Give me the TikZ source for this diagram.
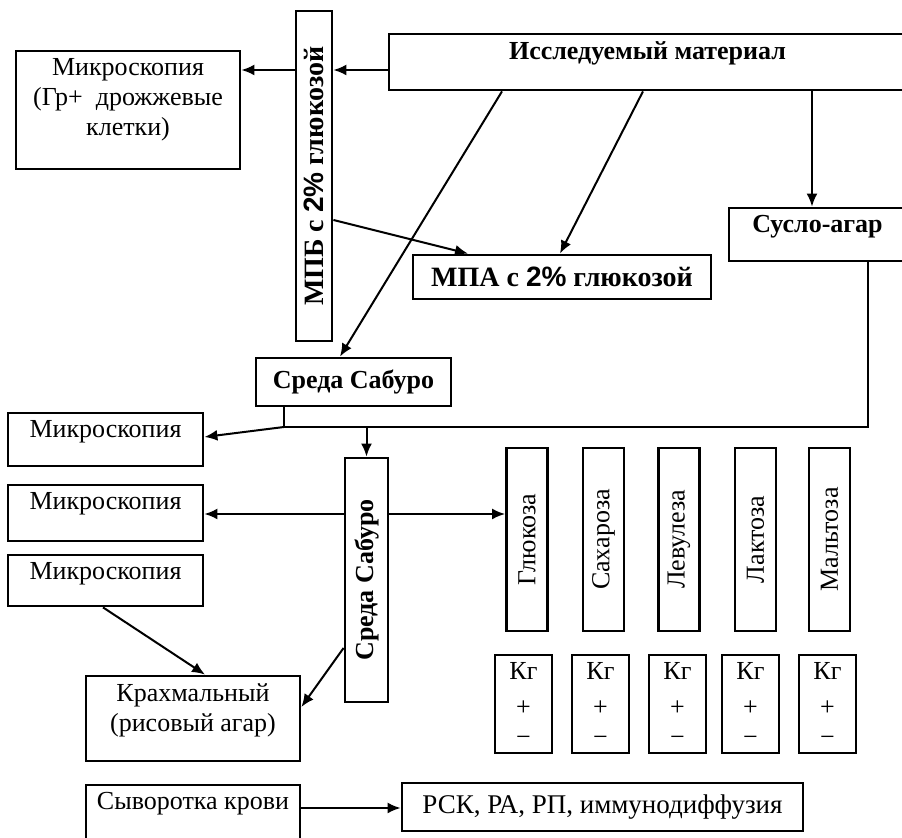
\documentclass[tikz,border=0pt]{standalone}
\usepackage{fontspec}
\setmainfont{Liberation Serif}
\setsansfont{Liberation Sans}
\usetikzlibrary{arrows.meta}

\tikzset{
	box/.style={draw, line width=1.4pt, inner sep=0pt},
	txt/.style={anchor=north, align=center, inner sep=4pt, font=\fontsize{13}{15}\selectfont},
	btxt/.style={txt, font=\fontsize{13}{15}\selectfont\bfseries},
	plain/.style={inner sep=0pt, align=center, font=\fontsize{13}{15}\selectfont},
	bplain/.style={plain, font=\fontsize{13}{15}\selectfont\bfseries},
	bbig/.style={plain, font=\fontsize{14}{16}\selectfont\bfseries},
}

\begin{document}
\begin{tikzpicture}[x=0.5pt, y=-0.5pt, line width=1pt, >={Latex[length=6.5pt,width=5.5pt]}]
	\useasboundingbox (0,0) rectangle (902,838);

	%MATERIALE
	\node[box, minimum width=258.5pt, minimum height=28pt, label={[btxt]north:Исследуемый материал}] (issl) at (647.5,62) {};
	\node[box, minimum width=18pt, minimum height=165pt] (mpb) at (314,176) {};
	\node[bbig, rotate=90] (mpb-t) at (mpb) {МПБ с {\sffamily 2\%} глюкозой};
	\node[box, minimum width=112pt, minimum height=59pt, label={[txt]north:{Микроскопия\\(Гр+\ \ дрожжевые\\клетки)}}] (micro1) at (128,110) {};
	\node[box, minimum width=149pt, minimum height=22pt, bbig] (mpa) at (562,277) {МПА с {\sffamily 2\%} глюкозой};
	\node[box, minimum width=88.5pt, minimum height=26.5pt, label={[btxt]north:Сусло-агар}] (suslo) at (817.5,234.5) {};
	\node[box, minimum width=97.5pt, minimum height=24pt, bplain] (sab1) at (353.5,382) {Среда Сабуро};

	%SABURO
	\node[box, minimum width=21.5pt, minimum height=122pt] (sab2) at (366.5,580) {};
	\node[bplain, rotate=90] (sab2-t) at (sab2) {Среда Сабуро};
	\node[box, minimum width=97.5pt, minimum height=26.5pt, label={[txt]north:Микроскопия}] (micro2) at (105.5,439.5) {};
	\node[box, minimum width=97.5pt, minimum height=28pt, label={[txt]north:Микроскопия}] (micro3) at (105.5,513) {};
	\node[box, minimum width=97.5pt, minimum height=25.5pt, label={[txt]north:Микроскопия}] (micro4) at (105.5,580.5) {};
	\node[box, minimum width=107pt, minimum height=42.5pt, label={[txt]north:{Крахмальный\\(рисовый агар)}}] (krah) at (193,718.5) {};

	%ZUCCHERI
	\foreach \x/\n/\t in {527/gluc/Глюкоза, 603.5/sah/Сахароза, 679/lev/Левулеза, 755.5/lak/Лактоза, 829.5/mal/Мальтоза}{
		\node[box, minimum width=20.5pt, minimum height=91.5pt] (\n) at (\x,539.5) {};
		\node[plain, rotate=90] (\n-t) at (\n) {\t};
	}
	\foreach \x/\n in {523.5/kg1, 600.5/kg2, 677.5/kg3, 750.5/kg4, 827.5/kg5}
		\node[box, plain, minimum width=28.5pt, minimum height=49pt] (\n) at (\x,704) {Кг\\[3pt]+\\−};

	%SIERO
	\node[box, minimum width=107pt, minimum height=32.5pt, label={[txt]north:Сыворотка крови}] (syv) at (193,817.5) {};
	\node[box, minimum width=200.5pt, minimum height=24pt, plain, font=\fontsize{13.5}{15}\selectfont] (rsk) at (602.5,807) {РСК, РА, РП, иммунодиффузия};

	%FRECCE
	\draw[->] (issl.west |- 0,70) to (mpb.east |- 0,70);
	\draw[->] (mpb.west |- 0,70) to (micro1.east |- 0,70);
	\draw[->] (issl.south -| 502,0) to (sab1.north -| 340,0);
	\draw[->] (issl.south -| 643,0) to (mpa.north -| 560,0);
	\draw[->] (issl.south -| 812,0) to (suslo.north -| 812,0);
	\draw[->] (mpb.east |- 0,220) to (mpa.north -| 468,0);
	\coordinate (jn) at (284,427);
	\draw (suslo.south -| 868,0) |- (jn) -- (sab1.south -| jn);
	\draw[->] (jn) to (micro2.east |- 0,437);
	\draw[->] (jn -| sab2.north) to (sab2.north);
	\draw[->] (sab2.west |- 0,514) to (micro3.east |- 0,514);
	\draw[->] (sab2.east |- 0,514) to (gluc.west |- 0,514);
	\draw[->] (micro4.south -| 103,0) to (krah.north -| 205,0);
	\draw[->] (sab2.west |- 0,648) to (krah.east |- 0,707);
	\draw[->] (syv.east |- 0,808) to (rsk.west |- 0,808);
\end{tikzpicture}
\end{document}
